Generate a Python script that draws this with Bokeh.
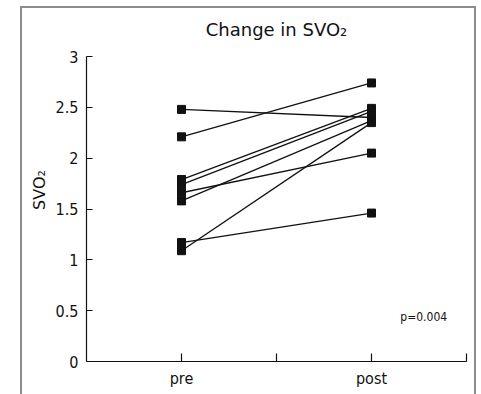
from bokeh.plotting import figure
from bokeh.models import FixedTicker, Label, ColumnDataSource
from bokeh.embed import file_html
from bokeh.resources import INLINE

# ---- data ----
categories = ["pre", "post"]
cat_positions = [1, 3]
pre = [2.48, 2.21, 1.79, 1.74, 1.66, 1.58, 1.09, 1.17]
post = [2.40, 2.74, 2.49, 2.46, 2.05, 2.37, 2.35, 1.46]
y_ticks = [0, 0.5, 1, 1.5, 2, 2.5, 3]
y_tick_labels = ["0", "0.5", "1", "1.5", "2", "2.5", "3"]
x_ticks = [1, 2, 3, 4]
x_tick_labels = ["pre", "", "post", ""]
title_text = "Change in SVO\u2082"
y_label = "SVO\u2082"
p_text = "p=0.004"

# ---- layout constants (annotation placement, not data) ----
Y_AXIS_END = 3.0          # axis line stops at 3
Y_VIEW_END = 3.374        # extra head-room above the axis for the title
TITLE_POS = (2.0, 3.27)
P_POS = (3.55, 0.44)

FONT = "'DejaVu Sans Condensed', 'DejaVu Sans', sans-serif"
WFONT = "'DejaVu Sans', sans-serif"
INK = "#111111"
FRAME_GREY = "#8c8c8c"

x_pre, x_post = cat_positions
lines = ColumnDataSource(dict(
    xs=[[x_pre, x_post] for _ in pre],
    ys=[[a, b] for a, b in zip(pre, post)],
))
pts = ColumnDataSource(dict(
    x=[x_pre] * len(pre) + [x_post] * len(post),
    y=pre + post,
))

p = figure(width=452, height=386, x_range=(0, 4), y_range=(0, Y_VIEW_END),
           output_backend="svg", toolbar_location=None,
           min_border_left=64, min_border_right=8, min_border_top=10,
           min_border_bottom=33)
# grey frame around the whole panel (drawn outside the element, no layout effect)
p.styles = {"margin-left": "22px",
            "margin-top": "8px",
            "outline": "2px solid " + FRAME_GREY}

p.multi_line("xs", "ys", source=lines, line_color=INK, line_width=1.3)
p.scatter("x", "y", source=pts, marker="square", size=8,
          fill_color=INK, line_color=INK)

p.add_layout(Label(x=P_POS[0], y=P_POS[1], text=p_text, text_font=FONT,
                   text_font_size="12px", text_color=INK,
                   text_align="center", text_baseline="middle"))
# chart title, centred over the plotting area
p.add_layout(Label(x=TITLE_POS[0], y=TITLE_POS[1], text=title_text,
                   text_font=WFONT, text_font_size="18px", text_color=INK,
                   text_align="center", text_baseline="middle"))

p.grid.visible = False
p.outline_line_color = None
p.background_fill_color = "white"

p.xaxis.ticker = FixedTicker(ticks=x_ticks)
p.xaxis.major_label_overrides = {t: l for t, l in zip(x_ticks, x_tick_labels)}
p.yaxis.ticker = FixedTicker(ticks=y_ticks)
p.yaxis.major_label_overrides = {t: l for t, l in zip(y_ticks, y_tick_labels)}
p.yaxis.bounds = (0, Y_AXIS_END)

for ax in (p.xaxis, p.yaxis):
    ax.axis_line_color = INK
    ax.axis_line_width = 1.2
    ax.major_tick_line_color = INK
    ax.major_tick_line_width = 1.2
    ax.major_tick_out = 0
    ax.minor_tick_line_color = None
    ax.major_label_text_font = FONT
    ax.major_label_text_font_size = "16px"
    ax.major_label_text_color = INK

p.xaxis.major_tick_in = 8
p.yaxis.major_tick_in = 6
p.xaxis.major_label_standoff = 7
p.yaxis.major_label_standoff = 8
p.yaxis.axis_label = y_label
p.yaxis.axis_label_text_font = WFONT
p.yaxis.axis_label_text_font_size = "16px"
p.yaxis.axis_label_text_font_style = "normal"
p.yaxis.axis_label_text_color = INK
p.yaxis.axis_label_standoff = 4

open("out.html", "w").write(file_html(p, INLINE))
